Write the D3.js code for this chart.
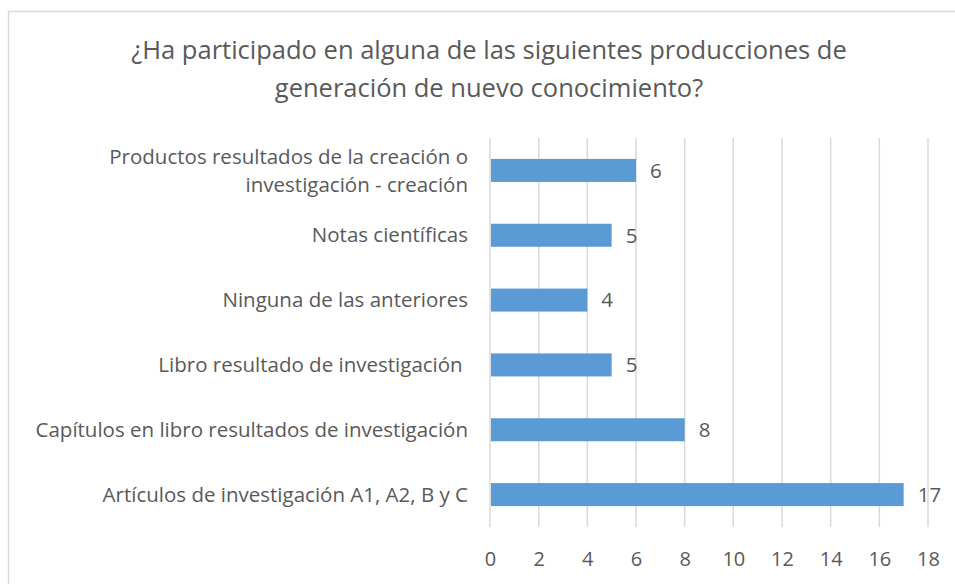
<html>
  <head>
    <meta charset="utf-8">
    <title>Producciones</title>
    <script src="https://d3js.org/d3.v7.min.js"></script>
    <style>
      body { margin: 0; background: #fff; }
      text { font-family: "Open Sans", sans-serif; fill: #595959; }
    </style>
  </head>
  <body>
    <svg width="955" height="584"></svg>

    <script type="text/javascript">
      var titleLines = ["¿Ha participado en alguna de las siguientes producciones de",
                        "generación de nuevo conocimiento?"];
      var categories = ["Productos resultados de la creación o|investigación - creación",
                        "Notas científicas",
                        "Ninguna de las anteriores",
                        "Libro resultado de investigación ",
                        "Capítulos en libro resultados de investigación",
                        "Artículos de investigación A1, A2, B y C"];
      var values = [6, 5, 4, 5, 8, 17];
      var xTicks = [0, 2, 4, 6, 8, 10, 12, 14, 16, 18];

      var margin = {top: 138, left: 490, right: 27, bottom: 57};
      var width = 955 - margin.left - margin.right;
      var height = 584 - margin.top - margin.bottom;

      var svg = d3.select("svg");

      // chart frame
      svg.append("path")
        .attr("d", "M8.5,584 V11.5 H955")
        .attr("fill", "none")
        .attr("stroke", "#d9d9d9")
        .attr("stroke-width", 1.5);

      svg.append("text")
        .attr("text-anchor", "middle")
        .attr("font-size", 25.5)
        .selectAll("tspan")
        .data(titleLines)
        .enter()
        .append("tspan")
        .attr("x", 489)
        .attr("y", (d, i) => 59 + i * 38)
        .text(d => d);

      var g = svg.append("g")
        .attr("transform", "translate(" + margin.left + "," + margin.top + ")");

      var xScale = d3.scaleLinear().domain([0, 18]).range([0, width]);
      var yScale = d3.scaleBand().domain(categories).range([0, height]).paddingInner(0.645).paddingOuter(0.3225);

      // gridlines
      g.selectAll("line.grid")
        .data(xTicks)
        .enter()
        .append("line")
        .attr("class", "grid")
        .attr("x1", d => xScale(d))
        .attr("x2", d => xScale(d))
        .attr("y1", 0)
        .attr("y2", height)
        .attr("stroke", "#d9d9d9")
        .attr("stroke-width", 1.5);

      // x axis labels
      var xAxis = d3.axisBottom(xScale).tickValues(xTicks).tickSize(0).tickPadding(24.5);
      var xAxisGroup = g.append("g")
        .attr("transform", "translate(0," + height + ")")
        .call(xAxis);
      xAxisGroup.select(".domain").remove();
      xAxisGroup.selectAll("text")
        .attr("font-family", "Open Sans, sans-serif")
        .attr("font-size", 20)
        .attr("fill", "#595959");

      // category labels
      var yAxis = d3.axisLeft(yScale).tickSize(0).tickPadding(22).tickFormat("");
      var yAxisGroup = g.append("g").call(yAxis);
      yAxisGroup.select(".domain").remove();
      yAxisGroup.selectAll(".tick").each(function(d) {
        var lines = d.split("|");
        var t = d3.select(this).append("text")
          .attr("text-anchor", "end")
          .attr("font-size", 20.5)
          .attr("xml:space", "preserve");
        t.selectAll("tspan")
          .data(lines)
          .enter()
          .append("tspan")
          .attr("x", -22)
          .attr("y", (l, i) => (i - (lines.length - 1) / 2) * 28)
          .attr("dy", "0.35em")
          .text(l => l);
      });

      var data = categories.map((c, i) => ({cat: c, val: values[i]}));

      g.selectAll("rect.bar")
        .data(data)
        .enter()
        .append("rect")
        .attr("class", "bar")
        .attr("x", xScale(0) + 1)
        .attr("y", d => yScale(d.cat))
        .attr("width", d => xScale(d.val) - xScale(0) - 1)
        .attr("height", yScale.bandwidth())
        .attr("fill", "#5b9bd5");

      g.selectAll("text.val")
        .data(data)
        .enter()
        .append("text")
        .attr("class", "val")
        .attr("x", d => xScale(d.val) + 14)
        .attr("y", d => yScale(d.cat) + yScale.bandwidth() / 2)
        .attr("dy", "0.36em")
        .attr("font-size", 20.5)
        .text(d => d.val);
    </script>
  </body>
</html>
